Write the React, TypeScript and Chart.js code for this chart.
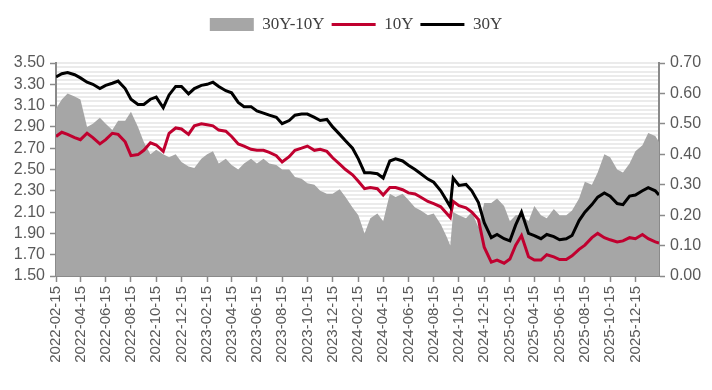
import React, { useEffect, useRef } from 'react';
import { Chart, registerables } from 'chart.js';

Chart.register(...registerables);

// Observation dates (semi-monthly samples)
const dates: string[] = [
  '2022-02-15', '2022-03-01', '2022-03-15', '2022-04-01', '2022-04-15', '2022-05-01', '2022-05-15', '2022-06-01',
  '2022-06-15', '2022-07-01', '2022-07-15', '2022-08-01', '2022-08-15', '2022-09-01', '2022-09-15', '2022-10-01',
  '2022-10-15', '2022-11-01', '2022-11-15', '2022-12-01', '2022-12-15', '2023-01-01', '2023-01-15', '2023-02-01',
  '2023-02-15', '2023-03-01', '2023-03-15', '2023-04-01', '2023-04-15', '2023-05-01', '2023-05-15', '2023-06-01',
  '2023-06-15', '2023-07-01', '2023-07-15', '2023-08-01', '2023-08-15', '2023-09-01', '2023-09-15', '2023-10-01',
  '2023-10-15', '2023-11-01', '2023-11-15', '2023-12-01', '2023-12-15', '2024-01-01', '2024-01-15', '2024-02-01',
  '2024-02-15', '2024-03-01', '2024-03-15', '2024-04-01', '2024-04-15', '2024-05-01', '2024-05-15', '2024-06-01',
  '2024-06-15', '2024-07-01', '2024-07-15', '2024-08-01', '2024-08-15', '2024-09-01', '2024-09-15', '2024-09-24',
  '2024-10-01', '2024-10-15', '2024-11-01', '2024-11-15', '2024-12-01', '2024-12-15', '2025-01-01', '2025-01-15',
  '2025-02-01', '2025-02-15', '2025-03-01', '2025-03-15', '2025-04-01', '2025-04-15', '2025-05-01', '2025-05-15',
  '2025-06-01', '2025-06-15', '2025-07-01', '2025-07-15', '2025-08-01', '2025-08-15', '2025-09-01', '2025-09-15',
  '2025-10-01', '2025-10-15', '2025-11-01', '2025-11-15', '2025-12-01', '2025-12-15', '2026-01-01', '2026-01-15',
  '2026-02-01', '2026-02-10',
];

// 30Y-10Y spread (right axis)
const spread: number[] = [
  0.55, 0.58, 0.60, 0.59, 0.58, 0.49, 0.50, 0.52,
  0.50, 0.48, 0.51, 0.51, 0.54, 0.49, 0.44, 0.40,
  0.415, 0.40, 0.39, 0.40, 0.375, 0.36, 0.355, 0.385,
  0.40, 0.41, 0.37, 0.385, 0.365, 0.35, 0.37, 0.385,
  0.37, 0.385, 0.37, 0.365, 0.35, 0.35, 0.325, 0.32,
  0.305, 0.30, 0.28, 0.27, 0.27, 0.285, 0.26, 0.225,
  0.20, 0.14, 0.19, 0.205, 0.18, 0.27, 0.26, 0.27,
  0.25, 0.225, 0.215, 0.20, 0.205, 0.17, 0.13, 0.10,
  0.21, 0.20, 0.19, 0.21, 0.16, 0.24, 0.24, 0.255,
  0.23, 0.18, 0.20, 0.20, 0.18, 0.23, 0.20, 0.19,
  0.22, 0.20, 0.20, 0.215, 0.255, 0.31, 0.30, 0.34,
  0.40, 0.39, 0.35, 0.34, 0.37, 0.41, 0.43, 0.47,
  0.46, 0.44,
];

// 10Y yield (left axis)
const y10: number[] = [
  2.81, 2.85, 2.83, 2.80, 2.78, 2.84, 2.80, 2.74,
  2.78, 2.84, 2.83, 2.76, 2.63, 2.64, 2.68, 2.75,
  2.73, 2.67, 2.84, 2.89, 2.88, 2.83, 2.91, 2.93,
  2.92, 2.91, 2.87, 2.86, 2.81, 2.74, 2.72, 2.69,
  2.68, 2.68, 2.66, 2.63, 2.57, 2.62, 2.68, 2.70,
  2.72, 2.68, 2.69, 2.67, 2.61, 2.55, 2.50, 2.45,
  2.39, 2.32, 2.33, 2.32, 2.26, 2.33, 2.33, 2.31,
  2.28, 2.27, 2.24, 2.20, 2.18, 2.15, 2.09, 2.05,
  2.20, 2.16, 2.14, 2.10, 2.03, 1.77, 1.63, 1.65,
  1.62, 1.66, 1.79, 1.88, 1.68, 1.65, 1.65, 1.70,
  1.68, 1.655, 1.655, 1.69, 1.75, 1.79, 1.86, 1.90,
  1.86, 1.84, 1.82, 1.83, 1.86, 1.85, 1.89, 1.85,
  1.82, 1.81,
];

// 30Y yield (left axis)
const y30: number[] = [
  3.37, 3.40, 3.41, 3.39, 3.36, 3.32, 3.30, 3.26,
  3.29, 3.31, 3.33, 3.26, 3.16, 3.11, 3.11, 3.16,
  3.18, 3.08, 3.20, 3.28, 3.28, 3.21, 3.26, 3.29,
  3.30, 3.32, 3.28, 3.24, 3.22, 3.13, 3.09, 3.09,
  3.05, 3.03, 3.01, 2.99, 2.93, 2.96, 3.01, 3.02,
  3.02, 2.99, 2.96, 2.97, 2.90, 2.83, 2.77, 2.70,
  2.60, 2.47, 2.47, 2.46, 2.42, 2.58, 2.60, 2.58,
  2.54, 2.50, 2.46, 2.41, 2.38, 2.30, 2.21, 2.15,
  2.42, 2.35, 2.36, 2.30, 2.19, 2.00, 1.86, 1.89,
  1.85, 1.83, 1.98, 2.10, 1.90, 1.88, 1.85, 1.89,
  1.87, 1.84, 1.85, 1.88, 2.02, 2.10, 2.17, 2.24,
  2.28, 2.25, 2.18, 2.17, 2.25, 2.26, 2.30, 2.33,
  2.30, 2.26,
];

const tickLabels: string[] = [
  '2022-02-15', '2022-04-15', '2022-06-15', '2022-08-15', '2022-10-15', '2022-12-15',
  '2023-02-15', '2023-04-15', '2023-06-15', '2023-08-15', '2023-10-15', '2023-12-15',
  '2024-02-15', '2024-04-15', '2024-06-15', '2024-08-15', '2024-10-15', '2024-12-15',
  '2025-02-15', '2025-04-15', '2025-06-15', '2025-08-15', '2025-10-15', '2025-12-15',
];

const START = Date.UTC(2022, 1, 15);
const dayOf = (s: string): number => {
  const [y, m, d] = s.split('-').map(Number);
  return Math.round((Date.UTC(y, m - 1, d) - START) / 86400000);
};

export default function App() {
  const ref = useRef<HTMLCanvasElement | null>(null);

  useEffect(() => {
    if (!ref.current) return;
    const xs = dates.map(dayOf);
    const tickDays = tickLabels.map(dayOf);
    const pts = (arr: number[]) => arr.map((v, i) => ({ x: xs[i], y: v }));

    const axisColor = '#8a8a8a';
    const labelColor = '#595959';
    const sans = "'Liberation Sans', Arial, sans-serif";

    const chart = new Chart(ref.current, {
      type: 'line',
      data: {
        datasets: [
          {
            label: '30Y-10Y',
            data: pts(spread),
            yAxisID: 'y1',
            fill: 'origin',
            backgroundColor: '#a6a6a6',
            borderColor: '#a6a6a6',
            borderWidth: 0,
            pointRadius: 0,
            pointStyle: 'rect',
            tension: 0,
            order: 3,
          },
          {
            label: '10Y',
            data: pts(y10),
            yAxisID: 'y',
            fill: false,
            borderColor: '#c0002f',
            backgroundColor: '#c0002f',
            borderWidth: 3,
            pointRadius: 0,
            pointStyle: 'line',
            tension: 0,
            order: 2,
          },
          {
            label: '30Y',
            data: pts(y30),
            yAxisID: 'y',
            fill: false,
            borderColor: '#000000',
            backgroundColor: '#000000',
            borderWidth: 3,
            pointRadius: 0,
            pointStyle: 'line',
            tension: 0,
            order: 1,
          },
        ],
      },
      options: {
        animation: false,
        responsive: true,
        maintainAspectRatio: false,
        layout: { padding: { top: 9, left: 0, right: 0, bottom: 0 } },
        plugins: {
          tooltip: { enabled: false },
          legend: {
            position: 'top',
            align: 'center',
            labels: {
              usePointStyle: true,
              pointStyleWidth: 44,
              boxHeight: 13,
              padding: 7,
              color: '#404040',
              font: { family: "'Liberation Serif', 'Times New Roman', serif", size: 17 },
              sort: (a: any, b: any) => a.datasetIndex - b.datasetIndex,
            },
          },
        },
        scales: {
          x: {
            type: 'linear',
            position: 'bottom',
            min: 0,
            max: xs[xs.length - 1],
            afterBuildTicks: (s: any) => {
              s.ticks = tickDays.map((v) => ({ value: v }));
            },
            afterFit: (s: any) => {
              s.height = 114;
            },
            ticks: {
              autoSkip: false,
              maxRotation: 90,
              minRotation: 90,
              padding: 4,
              color: labelColor,
              font: { family: sans, size: 15 },
              callback: (_v: any, i: number) => tickLabels[i],
            },
            grid: { drawOnChartArea: false, drawTicks: true, tickLength: 6, tickColor: axisColor, tickWidth: 1.5 },
            border: { display: true, color: axisColor, width: 2 },
          },
          xTop: {
            type: 'linear',
            position: 'top',
            display: true,
            ticks: { display: false },
            grid: { display: false, drawTicks: false },
            border: { display: false },
            afterFit: (s: any) => {
              s.height = 20;
            },
          },
          y: {
            type: 'linear',
            position: 'left',
            min: 1.5,
            max: 3.5,
            afterFit: (s: any) => {
              s.width = 56;
            },
            ticks: {
              stepSize: 0.2,
              autoSkip: false,
              padding: 5,
              color: labelColor,
              font: { family: sans, size: 16 },
              callback: (v: any) => Number(v).toFixed(2),
            },
            grid: { drawOnChartArea: false, drawTicks: true, tickLength: 6, tickColor: axisColor, tickWidth: 1.5 },
            border: { display: true, color: axisColor, width: 2 },
          },
          yg: {
            type: 'linear',
            position: 'left',
            min: 0,
            max: 50,
            afterFit: (s: any) => {
              s.width = 0;
            },
            ticks: { display: false, stepSize: 1, autoSkip: false },
            grid: { color: '#ebebeb', lineWidth: 2, drawTicks: false },
            border: { display: false },
          },
          y1: {
            type: 'linear',
            position: 'right',
            min: 0,
            max: 0.7,
            afterFit: (s: any) => {
              s.width = 53;
            },
            ticks: {
              stepSize: 0.1,
              autoSkip: false,
              padding: 5,
              color: labelColor,
              font: { family: sans, size: 16 },
              callback: (v: any) => Number(v).toFixed(2),
            },
            grid: { drawOnChartArea: false, drawTicks: true, tickLength: 6, tickColor: axisColor, tickWidth: 1.5 },
            border: { display: true, color: axisColor, width: 2 },
          },
        },
      },
    } as any);

    return () => chart.destroy();
  }, []);

  return (
    <div style={{ position: 'fixed', left: 0, top: 0, width: 712, height: 390, background: '#ffffff' }}>
      <canvas ref={ref} />
    </div>
  );
}
